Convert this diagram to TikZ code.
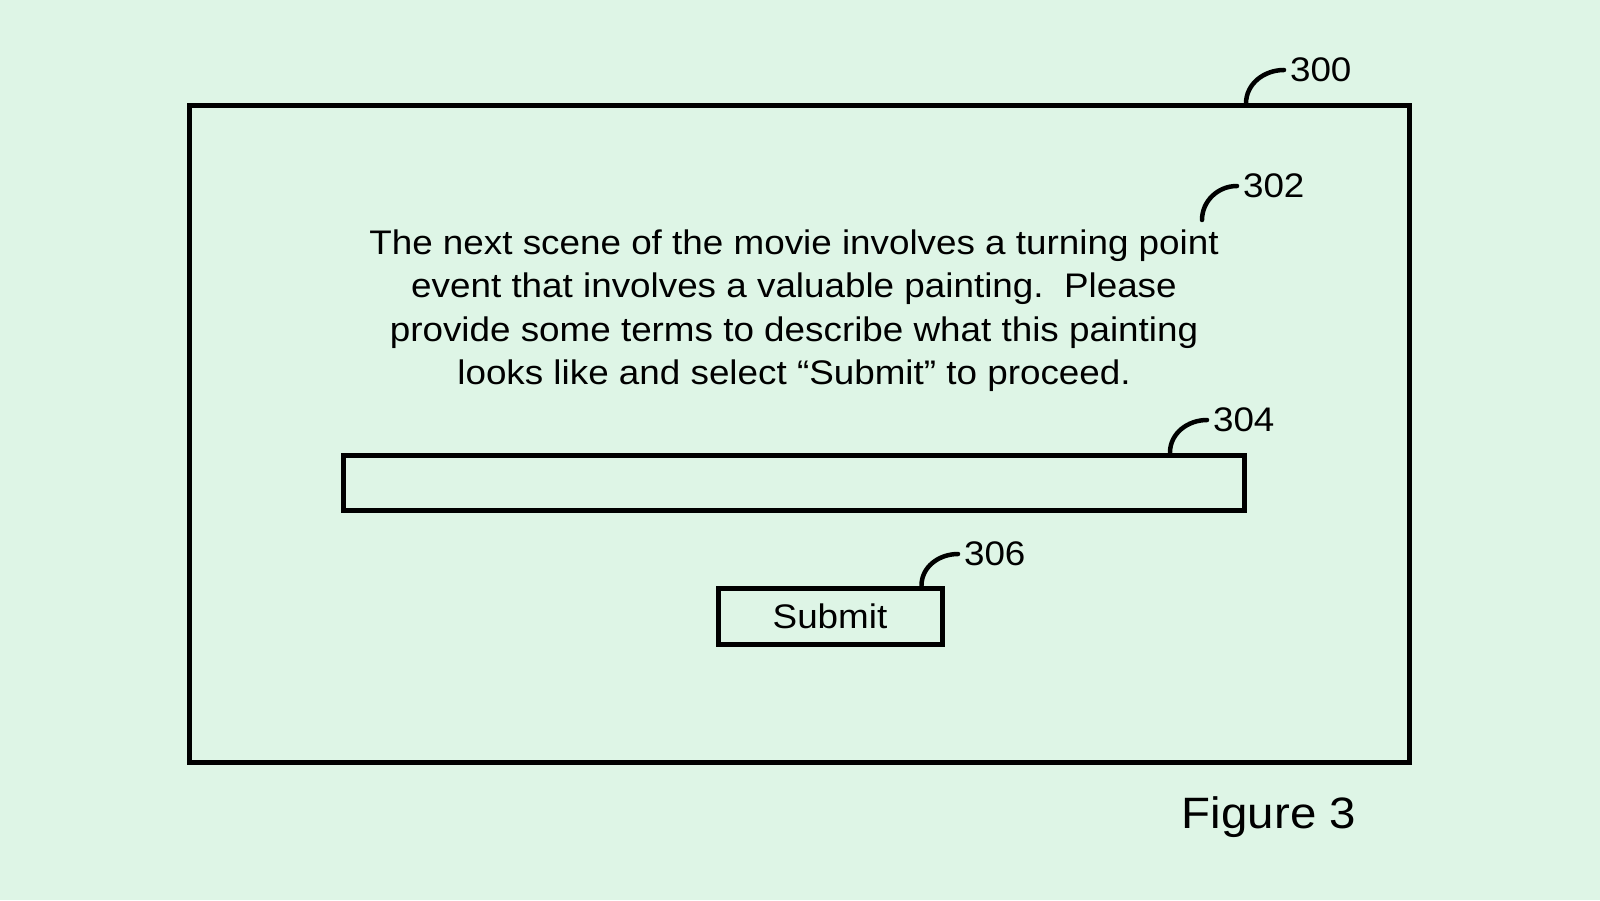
\documentclass[tikz,border=0pt]{standalone}
\usepackage{fontspec}
\setmainfont[FakeStretch=1.08]{Liberation Sans}
\definecolor{paper}{RGB}{222,245,230}

\begin{document}
\begin{tikzpicture}[line width=0.05cm,
  box/.style = {draw, inner sep=0pt},
  refnum/.style = {font=\fontsize{9.7}{11}\selectfont, inner sep=1pt, anchor=west},
  leader/.style = {line width=0.045cm, line cap=round}]
\fill[paper] (0,0) rectangle (16,9);
% screen and its parts
\node[box, minimum width=12.20cm, minimum height=6.56cm] (screen) at (7.995,4.66) {};
\node[font=\fontsize{9.7}{12.4}\selectfont, align=center, anchor=north, inner sep=0pt] (prompt) at (7.94,6.73)
  {The next scene of the movie involves a turning point\\
   event that involves a valuable painting.\ \ Please\\
   provide some terms to describe what this painting\\
   looks like and select “Submit” to proceed.};
\node[box, minimum width=9.01cm, minimum height=0.55cm] (field) at (7.94,4.175) {};
\node[box, minimum width=2.24cm, minimum height=0.56cm, font=\fontsize{9.7}{11}\selectfont] (submit) at (8.30,2.84) {Submit};
% reference numerals
\node[refnum] (n300) at (12.84,8.30) {300};
\node[refnum] (n302) at (12.37,7.14) {302};
\node[refnum] (n304) at (12.07,4.80) {304};
\node[refnum] (n306) at (9.58,3.46) {306};
\coordinate (p302) at (12.02,6.80);
\draw[leader] ([xshift=10.59cm]screen.north west) to[out=90,in=180] (n300.west);
\draw[leader] (p302) to[out=90,in=180] (n302.west);
\draw[leader] ([xshift=8.29cm]field.north west) to[out=90,in=180] (n304.west);
\draw[leader] ([xshift=2.06cm]submit.north west) to[out=90,in=180] (n306.west);
\node[font=\fontsize{12.5}{15}\selectfont, anchor=base] (caption) at (12.69,0.72) {Figure 3};
\end{tikzpicture}
\end{document}
